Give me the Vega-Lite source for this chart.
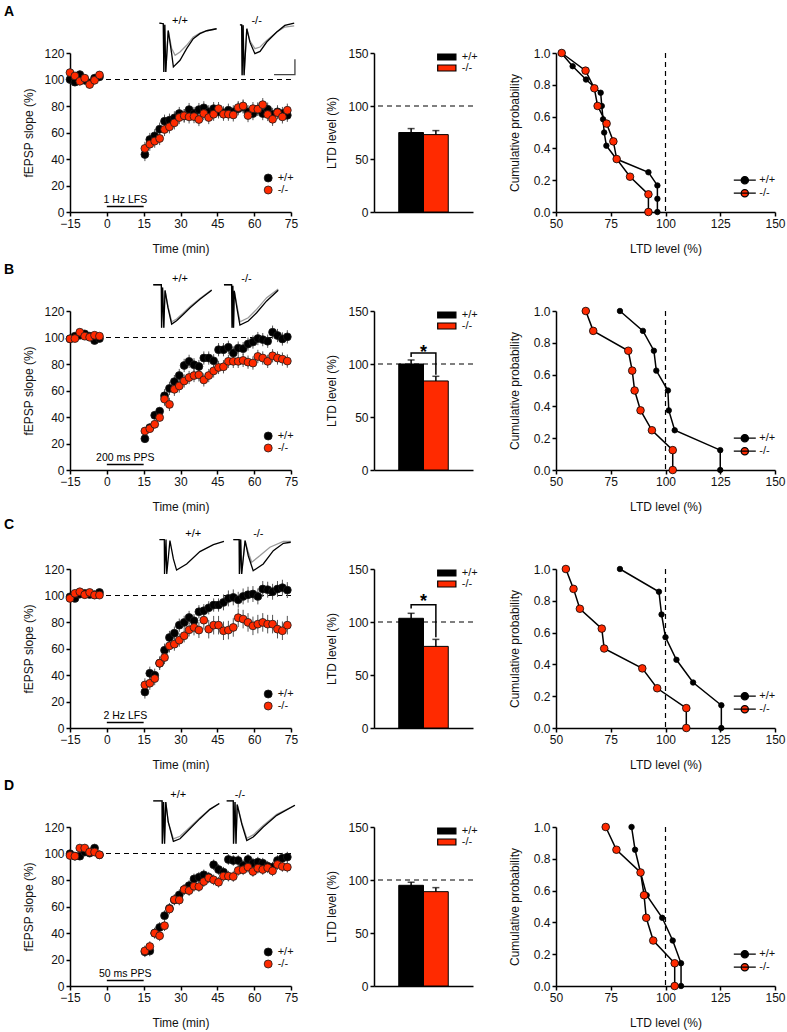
{
"$schema":"https://vega.github.io/schema/vega-lite/v6.json",
"padding":{"left":4,"top":5,"right":4,"bottom":4},
"config":{"font":"Liberation Sans","view":{"stroke":null},
"axis":{"grid":false,"domainColor":"#000","domainWidth":1.5,"tickColor":"#000","tickWidth":1.5,"tickSize":4,"labelColor":"#111","labelFontSize":12,"labelFont":"Liberation Sans","labelPadding":2,"labelFlush":false,"labelOverlap":false,"titleFont":"Liberation Sans","titleFontSize":12,"titleFontWeight":"normal","titleColor":"#111"},
"legend":{"labelFont":"Liberation Sans","labelColor":"#111","labelFontSize":11},
"text":{"font":"Liberation Sans"},"title":{"font":"Liberation Sans"}},
"datasets":{
"tc":[
{"r":"A","g":"+/+","t":-15,"v":100,"e":3},{"r":"A","g":"+/+","t":-13,"v":98,"e":3},{"r":"A","g":"+/+","t":-11,"v":103.7,"e":3},{"r":"A","g":"+/+","t":-9,"v":99.4,"e":3},{"r":"A","g":"+/+","t":-7,"v":97.4,"e":3},{"r":"A","g":"+/+","t":-5,"v":101,"e":3},{"r":"A","g":"+/+","t":-3,"v":102,"e":3},
{"r":"A","g":"+/+","t":15.5,"v":43.4,"e":5},{"r":"A","g":"+/+","t":17.5,"v":54.7,"e":5},{"r":"A","g":"+/+","t":19.5,"v":57.5,"e":5},{"r":"A","g":"+/+","t":21.5,"v":62.5,"e":5},{"r":"A","g":"+/+","t":23.5,"v":68.5,"e":5},{"r":"A","g":"+/+","t":25.5,"v":69.3,"e":5},{"r":"A","g":"+/+","t":27.5,"v":71,"e":5},{"r":"A","g":"+/+","t":29.5,"v":74.3,"e":5},{"r":"A","g":"+/+","t":31.5,"v":72.6,"e":5},{"r":"A","g":"+/+","t":33.5,"v":77.3,"e":5},{"r":"A","g":"+/+","t":35.5,"v":74.3,"e":5},{"r":"A","g":"+/+","t":37.5,"v":77.3,"e":5},{"r":"A","g":"+/+","t":39.5,"v":78.6,"e":5},{"r":"A","g":"+/+","t":41.5,"v":75.6,"e":5},{"r":"A","g":"+/+","t":43.5,"v":78,"e":5},{"r":"A","g":"+/+","t":45.5,"v":75.6,"e":5},{"r":"A","g":"+/+","t":47.5,"v":74.8,"e":5},{"r":"A","g":"+/+","t":49.5,"v":76.8,"e":5},{"r":"A","g":"+/+","t":51.5,"v":75.6,"e":5},{"r":"A","g":"+/+","t":53.5,"v":78,"e":5},{"r":"A","g":"+/+","t":55.5,"v":79.3,"e":5},{"r":"A","g":"+/+","t":57.5,"v":75.6,"e":5},{"r":"A","g":"+/+","t":59.5,"v":74.3,"e":5},{"r":"A","g":"+/+","t":61.5,"v":77.6,"e":5},{"r":"A","g":"+/+","t":63.5,"v":74.3,"e":5},{"r":"A","g":"+/+","t":65.5,"v":77.6,"e":5},{"r":"A","g":"+/+","t":67.5,"v":73.6,"e":5},{"r":"A","g":"+/+","t":69.5,"v":75.6,"e":5},{"r":"A","g":"+/+","t":71.5,"v":74.3,"e":5},{"r":"A","g":"+/+","t":73.5,"v":73,"e":5},
{"r":"A","g":"-/-","t":-15,"v":105.2,"e":3},{"r":"A","g":"-/-","t":-13,"v":102.7,"e":3},{"r":"A","g":"-/-","t":-11,"v":98.7,"e":3},{"r":"A","g":"-/-","t":-9,"v":101,"e":3},{"r":"A","g":"-/-","t":-7,"v":96.2,"e":3},{"r":"A","g":"-/-","t":-5,"v":99.4,"e":3},{"r":"A","g":"-/-","t":-3,"v":103.4,"e":3},
{"r":"A","g":"-/-","t":15.5,"v":48,"e":5},{"r":"A","g":"-/-","t":17.5,"v":51.2,"e":5},{"r":"A","g":"-/-","t":19.5,"v":53.5,"e":5},{"r":"A","g":"-/-","t":21.5,"v":55.5,"e":5},{"r":"A","g":"-/-","t":23.5,"v":62.3,"e":5},{"r":"A","g":"-/-","t":25.5,"v":64.3,"e":5},{"r":"A","g":"-/-","t":27.5,"v":67.3,"e":5},{"r":"A","g":"-/-","t":29.5,"v":71.3,"e":5},{"r":"A","g":"-/-","t":31.5,"v":72.6,"e":5},{"r":"A","g":"-/-","t":33.5,"v":71.8,"e":5},{"r":"A","g":"-/-","t":35.5,"v":72,"e":5},{"r":"A","g":"-/-","t":37.5,"v":69.8,"e":5},{"r":"A","g":"-/-","t":39.5,"v":74.3,"e":5},{"r":"A","g":"-/-","t":41.5,"v":71.3,"e":5},{"r":"A","g":"-/-","t":43.5,"v":73.8,"e":5},{"r":"A","g":"-/-","t":45.5,"v":78,"e":5},{"r":"A","g":"-/-","t":47.5,"v":73.8,"e":5},{"r":"A","g":"-/-","t":49.5,"v":73.8,"e":5},{"r":"A","g":"-/-","t":51.5,"v":73.3,"e":5},{"r":"A","g":"-/-","t":53.5,"v":78.8,"e":5},{"r":"A","g":"-/-","t":55.5,"v":80,"e":5},{"r":"A","g":"-/-","t":57.5,"v":72.8,"e":5},{"r":"A","g":"-/-","t":59.5,"v":78,"e":5},{"r":"A","g":"-/-","t":61.5,"v":77.6,"e":5},{"r":"A","g":"-/-","t":63.5,"v":81,"e":5},{"r":"A","g":"-/-","t":65.5,"v":73.6,"e":5},{"r":"A","g":"-/-","t":67.5,"v":70,"e":5},{"r":"A","g":"-/-","t":69.5,"v":75,"e":5},{"r":"A","g":"-/-","t":71.5,"v":71.8,"e":5},{"r":"A","g":"-/-","t":73.5,"v":76.8,"e":5},
{"r":"B","g":"+/+","t":-15,"v":99,"e":2.5},{"r":"B","g":"+/+","t":-13,"v":101,"e":2.5},{"r":"B","g":"+/+","t":-11,"v":101.7,"e":2.5},{"r":"B","g":"+/+","t":-9,"v":102.7,"e":2.5},{"r":"B","g":"+/+","t":-7,"v":101,"e":2.5},{"r":"B","g":"+/+","t":-5,"v":97.7,"e":2.5},{"r":"B","g":"+/+","t":-3,"v":99.2,"e":2.5},
{"r":"B","g":"+/+","t":15.5,"v":23.6,"e":3},{"r":"B","g":"+/+","t":17.5,"v":32,"e":3},{"r":"B","g":"+/+","t":19.5,"v":41.3,"e":3},{"r":"B","g":"+/+","t":21.5,"v":44.4,"e":3},{"r":"B","g":"+/+","t":23.5,"v":56,"e":5},{"r":"B","g":"+/+","t":25.5,"v":61.6,"e":5},{"r":"B","g":"+/+","t":27.5,"v":66.7,"e":5},{"r":"B","g":"+/+","t":29.5,"v":71.3,"e":5},{"r":"B","g":"+/+","t":31.5,"v":78.9,"e":5},{"r":"B","g":"+/+","t":33.5,"v":82,"e":5},{"r":"B","g":"+/+","t":35.5,"v":79.4,"e":5},{"r":"B","g":"+/+","t":37.5,"v":78.1,"e":5},{"r":"B","g":"+/+","t":39.5,"v":84.5,"e":5},{"r":"B","g":"+/+","t":41.5,"v":84.5,"e":5},{"r":"B","g":"+/+","t":43.5,"v":82.4,"e":5},{"r":"B","g":"+/+","t":45.5,"v":90.8,"e":5},{"r":"B","g":"+/+","t":47.5,"v":90.8,"e":5},{"r":"B","g":"+/+","t":49.5,"v":92.6,"e":5},{"r":"B","g":"+/+","t":51.5,"v":88.3,"e":5},{"r":"B","g":"+/+","t":53.5,"v":92,"e":5},{"r":"B","g":"+/+","t":55.5,"v":91.6,"e":5},{"r":"B","g":"+/+","t":57.5,"v":95.1,"e":5},{"r":"B","g":"+/+","t":59.5,"v":96.6,"e":5},{"r":"B","g":"+/+","t":61.5,"v":99.2,"e":5},{"r":"B","g":"+/+","t":63.5,"v":98.4,"e":5},{"r":"B","g":"+/+","t":65.5,"v":97.2,"e":5},{"r":"B","g":"+/+","t":67.5,"v":104,"e":5},{"r":"B","g":"+/+","t":69.5,"v":101.5,"e":5},{"r":"B","g":"+/+","t":71.5,"v":98.9,"e":5},{"r":"B","g":"+/+","t":73.5,"v":100.5,"e":5},
{"r":"B","g":"-/-","t":-15,"v":99,"e":2.5},{"r":"B","g":"-/-","t":-13,"v":99.2,"e":2.5},{"r":"B","g":"-/-","t":-11,"v":104,"e":2.5},{"r":"B","g":"-/-","t":-9,"v":101,"e":2.5},{"r":"B","g":"-/-","t":-7,"v":100.2,"e":2.5},{"r":"B","g":"-/-","t":-5,"v":101.7,"e":2.5},{"r":"B","g":"-/-","t":-3,"v":101,"e":2.5},
{"r":"B","g":"-/-","t":15.5,"v":29.4,"e":3},{"r":"B","g":"-/-","t":17.5,"v":31.2,"e":3},{"r":"B","g":"-/-","t":19.5,"v":34.5,"e":3},{"r":"B","g":"-/-","t":21.5,"v":39.6,"e":3},{"r":"B","g":"-/-","t":23.5,"v":53.5,"e":5},{"r":"B","g":"-/-","t":25.5,"v":49.5,"e":5},{"r":"B","g":"-/-","t":27.5,"v":60.9,"e":5},{"r":"B","g":"-/-","t":29.5,"v":63.4,"e":5},{"r":"B","g":"-/-","t":31.5,"v":67.2,"e":5},{"r":"B","g":"-/-","t":33.5,"v":69.8,"e":5},{"r":"B","g":"-/-","t":35.5,"v":71.3,"e":5},{"r":"B","g":"-/-","t":37.5,"v":71.8,"e":5},{"r":"B","g":"-/-","t":39.5,"v":68,"e":5},{"r":"B","g":"-/-","t":41.5,"v":71.3,"e":5},{"r":"B","g":"-/-","t":43.5,"v":74.8,"e":5},{"r":"B","g":"-/-","t":45.5,"v":77.4,"e":5},{"r":"B","g":"-/-","t":47.5,"v":77.9,"e":5},{"r":"B","g":"-/-","t":49.5,"v":82,"e":5},{"r":"B","g":"-/-","t":51.5,"v":82,"e":5},{"r":"B","g":"-/-","t":53.5,"v":82,"e":5},{"r":"B","g":"-/-","t":55.5,"v":82.7,"e":5},{"r":"B","g":"-/-","t":57.5,"v":81.4,"e":5},{"r":"B","g":"-/-","t":59.5,"v":80.7,"e":5},{"r":"B","g":"-/-","t":61.5,"v":85.7,"e":5},{"r":"B","g":"-/-","t":63.5,"v":84.5,"e":5},{"r":"B","g":"-/-","t":65.5,"v":82,"e":5},{"r":"B","g":"-/-","t":67.5,"v":86.2,"e":5},{"r":"B","g":"-/-","t":69.5,"v":84.5,"e":5},{"r":"B","g":"-/-","t":71.5,"v":83.7,"e":5},{"r":"B","g":"-/-","t":73.5,"v":82.2,"e":5},
{"r":"C","g":"+/+","t":-15,"v":99,"e":2.5},{"r":"C","g":"+/+","t":-13,"v":97.8,"e":2.5},{"r":"C","g":"+/+","t":-11,"v":101,"e":2.5},{"r":"C","g":"+/+","t":-9,"v":101.6,"e":2.5},{"r":"C","g":"+/+","t":-7,"v":100.8,"e":2.5},{"r":"C","g":"+/+","t":-5,"v":100.6,"e":2.5},{"r":"C","g":"+/+","t":-3,"v":102.3,"e":2.5},
{"r":"C","g":"+/+","t":15.5,"v":27.2,"e":5},{"r":"C","g":"+/+","t":17.5,"v":41.3,"e":5},{"r":"C","g":"+/+","t":19.5,"v":39.8,"e":5},{"r":"C","g":"+/+","t":21.5,"v":48.9,"e":5},{"r":"C","g":"+/+","t":23.5,"v":58.7,"e":5},{"r":"C","g":"+/+","t":25.5,"v":68.3,"e":5},{"r":"C","g":"+/+","t":27.5,"v":71.6,"e":5},{"r":"C","g":"+/+","t":29.5,"v":77.6,"e":5},{"r":"C","g":"+/+","t":31.5,"v":79.7,"e":5},{"r":"C","g":"+/+","t":33.5,"v":83.4,"e":5},{"r":"C","g":"+/+","t":35.5,"v":80.9,"e":5},{"r":"C","g":"+/+","t":37.5,"v":87.7,"e":5},{"r":"C","g":"+/+","t":39.5,"v":88.5,"e":5},{"r":"C","g":"+/+","t":41.5,"v":90.7,"e":5},{"r":"C","g":"+/+","t":43.5,"v":92.8,"e":5},{"r":"C","g":"+/+","t":45.5,"v":92.8,"e":5},{"r":"C","g":"+/+","t":47.5,"v":94.8,"e":6},{"r":"C","g":"+/+","t":49.5,"v":97.8,"e":6},{"r":"C","g":"+/+","t":51.5,"v":98.6,"e":6},{"r":"C","g":"+/+","t":53.5,"v":96.8,"e":6},{"r":"C","g":"+/+","t":55.5,"v":99.3,"e":6},{"r":"C","g":"+/+","t":57.5,"v":100.6,"e":6},{"r":"C","g":"+/+","t":59.5,"v":101.1,"e":6},{"r":"C","g":"+/+","t":61.5,"v":99.3,"e":6},{"r":"C","g":"+/+","t":63.5,"v":104.9,"e":6},{"r":"C","g":"+/+","t":65.5,"v":104.4,"e":6},{"r":"C","g":"+/+","t":67.5,"v":102.8,"e":6},{"r":"C","g":"+/+","t":69.5,"v":104.9,"e":6},{"r":"C","g":"+/+","t":71.5,"v":105.9,"e":6},{"r":"C","g":"+/+","t":73.5,"v":104.1,"e":6},
{"r":"C","g":"-/-","t":-15,"v":97.8,"e":2.5},{"r":"C","g":"-/-","t":-13,"v":101.6,"e":2.5},{"r":"C","g":"-/-","t":-11,"v":102.8,"e":2.5},{"r":"C","g":"-/-","t":-9,"v":100.6,"e":2.5},{"r":"C","g":"-/-","t":-7,"v":102.3,"e":2.5},{"r":"C","g":"-/-","t":-5,"v":100.3,"e":2.5},{"r":"C","g":"-/-","t":-3,"v":100.3,"e":2.5},
{"r":"C","g":"-/-","t":15.5,"v":32.5,"e":5},{"r":"C","g":"-/-","t":17.5,"v":33.8,"e":5},{"r":"C","g":"-/-","t":19.5,"v":37.3,"e":5},{"r":"C","g":"-/-","t":21.5,"v":48.9,"e":5},{"r":"C","g":"-/-","t":23.5,"v":53.2,"e":5},{"r":"C","g":"-/-","t":25.5,"v":62,"e":5},{"r":"C","g":"-/-","t":27.5,"v":63.3,"e":5},{"r":"C","g":"-/-","t":29.5,"v":66.3,"e":5},{"r":"C","g":"-/-","t":31.5,"v":69.6,"e":5},{"r":"C","g":"-/-","t":33.5,"v":74.1,"e":5},{"r":"C","g":"-/-","t":35.5,"v":75.9,"e":6},{"r":"C","g":"-/-","t":37.5,"v":73.9,"e":6},{"r":"C","g":"-/-","t":39.5,"v":81.4,"e":7},{"r":"C","g":"-/-","t":41.5,"v":74.6,"e":7},{"r":"C","g":"-/-","t":43.5,"v":77.6,"e":7},{"r":"C","g":"-/-","t":45.5,"v":77.6,"e":7},{"r":"C","g":"-/-","t":47.5,"v":73.4,"e":7},{"r":"C","g":"-/-","t":49.5,"v":73.9,"e":7},{"r":"C","g":"-/-","t":51.5,"v":75.9,"e":7},{"r":"C","g":"-/-","t":53.5,"v":83.2,"e":7},{"r":"C","g":"-/-","t":55.5,"v":82.2,"e":7},{"r":"C","g":"-/-","t":57.5,"v":79.7,"e":7},{"r":"C","g":"-/-","t":59.5,"v":77.1,"e":7},{"r":"C","g":"-/-","t":61.5,"v":78.4,"e":7},{"r":"C","g":"-/-","t":63.5,"v":79.7,"e":7},{"r":"C","g":"-/-","t":65.5,"v":78.4,"e":7},{"r":"C","g":"-/-","t":67.5,"v":78.4,"e":7},{"r":"C","g":"-/-","t":69.5,"v":74.6,"e":7},{"r":"C","g":"-/-","t":71.5,"v":73.4,"e":7},{"r":"C","g":"-/-","t":73.5,"v":77.6,"e":7},
{"r":"D","g":"+/+","t":-15,"v":99.8,"e":3},{"r":"D","g":"+/+","t":-13,"v":98,"e":3},{"r":"D","g":"+/+","t":-11,"v":98,"e":3},{"r":"D","g":"+/+","t":-9,"v":101.1,"e":3},{"r":"D","g":"+/+","t":-7,"v":100.3,"e":3},{"r":"D","g":"+/+","t":-5,"v":104.1,"e":3},{"r":"D","g":"+/+","t":-3,"v":99,"e":3},
{"r":"D","g":"+/+","t":15.5,"v":25.8,"e":4},{"r":"D","g":"+/+","t":17.5,"v":26.5,"e":4},{"r":"D","g":"+/+","t":19.5,"v":39.9,"e":4},{"r":"D","g":"+/+","t":21.5,"v":44.2,"e":4},{"r":"D","g":"+/+","t":23.5,"v":53.1,"e":4},{"r":"D","g":"+/+","t":25.5,"v":58.6,"e":4},{"r":"D","g":"+/+","t":27.5,"v":64.9,"e":4},{"r":"D","g":"+/+","t":29.5,"v":68.7,"e":4},{"r":"D","g":"+/+","t":31.5,"v":72.8,"e":4},{"r":"D","g":"+/+","t":33.5,"v":75.8,"e":4},{"r":"D","g":"+/+","t":35.5,"v":80.8,"e":4},{"r":"D","g":"+/+","t":37.5,"v":82.1,"e":4},{"r":"D","g":"+/+","t":39.5,"v":83.9,"e":4},{"r":"D","g":"+/+","t":41.5,"v":82.1,"e":4},{"r":"D","g":"+/+","t":43.5,"v":91.5,"e":4},{"r":"D","g":"+/+","t":45.5,"v":87.9,"e":4},{"r":"D","g":"+/+","t":47.5,"v":85.9,"e":4},{"r":"D","g":"+/+","t":49.5,"v":95.5,"e":4},{"r":"D","g":"+/+","t":51.5,"v":94.7,"e":4},{"r":"D","g":"+/+","t":53.5,"v":94.7,"e":4},{"r":"D","g":"+/+","t":55.5,"v":91,"e":4},{"r":"D","g":"+/+","t":57.5,"v":95.5,"e":4},{"r":"D","g":"+/+","t":59.5,"v":92.7,"e":4},{"r":"D","g":"+/+","t":61.5,"v":93.5,"e":4},{"r":"D","g":"+/+","t":63.5,"v":92.7,"e":4},{"r":"D","g":"+/+","t":65.5,"v":90.4,"e":4},{"r":"D","g":"+/+","t":67.5,"v":89.7,"e":4},{"r":"D","g":"+/+","t":69.5,"v":94.7,"e":4},{"r":"D","g":"+/+","t":71.5,"v":96.5,"e":4},{"r":"D","g":"+/+","t":73.5,"v":97.3,"e":4},
{"r":"D","g":"-/-","t":-15,"v":98.5,"e":3},{"r":"D","g":"-/-","t":-13,"v":98,"e":3},{"r":"D","g":"-/-","t":-11,"v":104.1,"e":3},{"r":"D","g":"-/-","t":-9,"v":104.1,"e":3},{"r":"D","g":"-/-","t":-7,"v":101.1,"e":3},{"r":"D","g":"-/-","t":-5,"v":101.1,"e":3},{"r":"D","g":"-/-","t":-3,"v":99,"e":3},
{"r":"D","g":"-/-","t":15.5,"v":26.5,"e":4},{"r":"D","g":"-/-","t":17.5,"v":29.8,"e":4},{"r":"D","g":"-/-","t":19.5,"v":39.9,"e":4},{"r":"D","g":"-/-","t":21.5,"v":37.9,"e":4},{"r":"D","g":"-/-","t":23.5,"v":45.5,"e":4},{"r":"D","g":"-/-","t":25.5,"v":58.1,"e":4},{"r":"D","g":"-/-","t":27.5,"v":65.2,"e":4},{"r":"D","g":"-/-","t":29.5,"v":64.9,"e":4},{"r":"D","g":"-/-","t":31.5,"v":72.8,"e":4},{"r":"D","g":"-/-","t":33.5,"v":72,"e":4},{"r":"D","g":"-/-","t":35.5,"v":75.3,"e":4},{"r":"D","g":"-/-","t":37.5,"v":75,"e":4},{"r":"D","g":"-/-","t":39.5,"v":78.8,"e":4},{"r":"D","g":"-/-","t":41.5,"v":81.6,"e":4},{"r":"D","g":"-/-","t":43.5,"v":80.1,"e":4},{"r":"D","g":"-/-","t":45.5,"v":78.3,"e":4},{"r":"D","g":"-/-","t":47.5,"v":82.9,"e":4},{"r":"D","g":"-/-","t":49.5,"v":82.9,"e":4},{"r":"D","g":"-/-","t":51.5,"v":82.6,"e":4},{"r":"D","g":"-/-","t":53.5,"v":87.2,"e":4},{"r":"D","g":"-/-","t":55.5,"v":87.7,"e":4},{"r":"D","g":"-/-","t":57.5,"v":89.7,"e":4},{"r":"D","g":"-/-","t":59.5,"v":86.4,"e":4},{"r":"D","g":"-/-","t":61.5,"v":88.9,"e":4},{"r":"D","g":"-/-","t":63.5,"v":87.9,"e":4},{"r":"D","g":"-/-","t":65.5,"v":89.2,"e":4},{"r":"D","g":"-/-","t":67.5,"v":86.9,"e":4},{"r":"D","g":"-/-","t":69.5,"v":91.7,"e":4},{"r":"D","g":"-/-","t":71.5,"v":90.2,"e":4},{"r":"D","g":"-/-","t":73.5,"v":89.7,"e":4}
],
"bars":[
{"r":"A","g":"+/+","m":75,"e":3.7},{"r":"A","g":"-/-","m":73,"e":3.8},
{"r":"B","g":"+/+","m":100,"e":3.8},{"r":"B","g":"-/-","m":84,"e":4.4},
{"r":"C","g":"+/+","m":103.5,"e":4.7},{"r":"C","g":"-/-","m":77,"e":6.6},
{"r":"D","g":"+/+","m":95,"e":2.9},{"r":"D","g":"-/-","m":89,"e":3.8}
],
"brk":[
{"r":"B","g":"+/+","y":106.5,"o":1},{"r":"B","g":"+/+","y":110.3,"o":2},{"r":"B","g":"-/-","y":110.3,"o":3},{"r":"B","g":"-/-","y":89.8,"o":4},
{"r":"C","g":"+/+","y":112.7,"o":1},{"r":"C","g":"+/+","y":116.2,"o":2},{"r":"C","g":"-/-","y":116.2,"o":3},{"r":"C","g":"-/-","y":85.5,"o":4}
],
"star":[{"r":"B","g":"+/+","y":106,"s":"*"},{"r":"C","g":"+/+","y":114.5,"s":"*"}],
"cum":[
{"r":"A","g":"+/+","x":52.4,"p":1},{"r":"A","g":"+/+","x":57.6,"p":0.917},{"r":"A","g":"+/+","x":63.7,"p":0.833},{"r":"A","g":"+/+","x":70.4,"p":0.75},{"r":"A","g":"+/+","x":70.9,"p":0.667},{"r":"A","g":"+/+","x":71.5,"p":0.583},{"r":"A","g":"+/+","x":72,"p":0.5},{"r":"A","g":"+/+","x":73,"p":0.417},{"r":"A","g":"+/+","x":77.6,"p":0.333},{"r":"A","g":"+/+","x":92.2,"p":0.25},{"r":"A","g":"+/+","x":96.3,"p":0.167},{"r":"A","g":"+/+","x":96.3,"p":0.083},{"r":"A","g":"+/+","x":96.3,"p":0},
{"r":"A","g":"-/-","x":52.6,"p":1},{"r":"A","g":"-/-","x":63.5,"p":0.889},{"r":"A","g":"-/-","x":67.5,"p":0.778},{"r":"A","g":"-/-","x":69,"p":0.667},{"r":"A","g":"-/-","x":73.1,"p":0.556},{"r":"A","g":"-/-","x":76.2,"p":0.444},{"r":"A","g":"-/-","x":77.7,"p":0.333},{"r":"A","g":"-/-","x":83.8,"p":0.222},{"r":"A","g":"-/-","x":92.2,"p":0.111},{"r":"A","g":"-/-","x":92.2,"p":0},
{"r":"B","g":"+/+","x":79.2,"p":1},{"r":"B","g":"+/+","x":89.7,"p":0.875},{"r":"B","g":"+/+","x":94.7,"p":0.75},{"r":"B","g":"+/+","x":95.8,"p":0.625},{"r":"B","g":"+/+","x":101.1,"p":0.5},{"r":"B","g":"+/+","x":101.5,"p":0.375},{"r":"B","g":"+/+","x":104.2,"p":0.25},{"r":"B","g":"+/+","x":125,"p":0.125},{"r":"B","g":"+/+","x":125,"p":0},
{"r":"B","g":"-/-","x":63.6,"p":1},{"r":"B","g":"-/-","x":67,"p":0.875},{"r":"B","g":"-/-","x":83,"p":0.75},{"r":"B","g":"-/-","x":84.8,"p":0.625},{"r":"B","g":"-/-","x":85.9,"p":0.5},{"r":"B","g":"-/-","x":88.6,"p":0.375},{"r":"B","g":"-/-","x":93.8,"p":0.25},{"r":"B","g":"-/-","x":103.3,"p":0.125},{"r":"B","g":"-/-","x":103.3,"p":0},
{"r":"C","g":"+/+","x":79.2,"p":1},{"r":"C","g":"+/+","x":97,"p":0.857},{"r":"C","g":"+/+","x":98.2,"p":0.714},{"r":"C","g":"+/+","x":100,"p":0.571},{"r":"C","g":"+/+","x":105,"p":0.429},{"r":"C","g":"+/+","x":112.6,"p":0.286},{"r":"C","g":"+/+","x":125.5,"p":0.143},{"r":"C","g":"+/+","x":125.5,"p":0},
{"r":"C","g":"-/-","x":54.5,"p":1},{"r":"C","g":"-/-","x":58,"p":0.875},{"r":"C","g":"-/-","x":60.9,"p":0.75},{"r":"C","g":"-/-","x":70.9,"p":0.625},{"r":"C","g":"-/-","x":72,"p":0.5},{"r":"C","g":"-/-","x":89.4,"p":0.375},{"r":"C","g":"-/-","x":96.2,"p":0.25},{"r":"C","g":"-/-","x":109.5,"p":0.125},{"r":"C","g":"-/-","x":109.5,"p":0},
{"r":"D","g":"+/+","x":84.5,"p":1},{"r":"D","g":"+/+","x":86.1,"p":0.857},{"r":"D","g":"+/+","x":88.6,"p":0.714},{"r":"D","g":"+/+","x":91.4,"p":0.571},{"r":"D","g":"+/+","x":98.5,"p":0.429},{"r":"D","g":"+/+","x":103.3,"p":0.286},{"r":"D","g":"+/+","x":107.1,"p":0.143},{"r":"D","g":"+/+","x":107.1,"p":0},
{"r":"D","g":"-/-","x":72.7,"p":1},{"r":"D","g":"-/-","x":77.6,"p":0.857},{"r":"D","g":"-/-","x":88.6,"p":0.714},{"r":"D","g":"-/-","x":90.2,"p":0.571},{"r":"D","g":"-/-","x":91.2,"p":0.429},{"r":"D","g":"-/-","x":94.4,"p":0.286},{"r":"D","g":"-/-","x":104.2,"p":0.143},{"r":"D","g":"-/-","x":104.2,"p":0}
],
"tr":[
{"r":"A","c":"p","k":"post","o":1,"t":21.4,"v":142.6},{"r":"A","c":"p","k":"post","o":2,"t":23.0,"v":142.1},{"r":"A","c":"p","k":"post","o":3,"t":23.2,"v":105.7},{"r":"A","c":"p","k":"post","o":4,"t":23.6,"v":141.3},{"r":"A","c":"p","k":"post","o":5,"t":24.0,"v":105.7},{"r":"A","c":"p","k":"post","o":6,"t":25.0,"v":137},{"r":"A","c":"p","k":"post","o":7,"t":26.4,"v":123.3},{"r":"A","c":"p","k":"post","o":8,"t":27.8,"v":118.2},{"r":"A","c":"p","k":"post","o":9,"t":29.8,"v":120.8},{"r":"A","c":"p","k":"post","o":10,"t":32.5,"v":125.8},{"r":"A","c":"p","k":"post","o":11,"t":35.2,"v":132.1},{"r":"A","c":"p","k":"post","o":12,"t":37.9,"v":135.1},{"r":"A","c":"p","k":"post","o":13,"t":40.7,"v":136.8},{"r":"A","c":"p","k":"post","o":14,"t":44.7,"v":138.3},
{"r":"A","c":"p","k":"pre","o":1,"t":21.4,"v":142.6},{"r":"A","c":"p","k":"pre","o":2,"t":23.0,"v":142.1},{"r":"A","c":"p","k":"pre","o":3,"t":23.2,"v":105.7},{"r":"A","c":"p","k":"pre","o":4,"t":23.6,"v":141.3},{"r":"A","c":"p","k":"pre","o":5,"t":24.0,"v":105.7},{"r":"A","c":"p","k":"pre","o":6,"t":25.0,"v":137},{"r":"A","c":"p","k":"pre","o":7,"t":26.4,"v":119.5},{"r":"A","c":"p","k":"pre","o":8,"t":27.1,"v":109.5},{"r":"A","c":"p","k":"pre","o":9,"t":29.8,"v":114.5},{"r":"A","c":"p","k":"pre","o":10,"t":32.5,"v":123.3},{"r":"A","c":"p","k":"pre","o":11,"t":35.2,"v":130.8},{"r":"A","c":"p","k":"pre","o":12,"t":37.9,"v":134.6},{"r":"A","c":"p","k":"pre","o":13,"t":40.7,"v":136.8},{"r":"A","c":"p","k":"pre","o":14,"t":44.7,"v":138.3},
{"r":"A","c":"m","k":"post","o":1,"t":54.2,"v":141.3},{"r":"A","c":"m","k":"post","o":2,"t":54.9,"v":141.3},{"r":"A","c":"m","k":"post","o":3,"t":55.1,"v":103.2},{"r":"A","c":"m","k":"post","o":4,"t":55.5,"v":141},{"r":"A","c":"m","k":"post","o":5,"t":55.9,"v":103.2},{"r":"A","c":"m","k":"post","o":6,"t":57.0,"v":138.3},{"r":"A","c":"m","k":"post","o":7,"t":58.3,"v":129},{"r":"A","c":"m","k":"post","o":8,"t":60.3,"v":123.3},{"r":"A","c":"m","k":"post","o":9,"t":62.4,"v":124.5},{"r":"A","c":"m","k":"post","o":10,"t":65.1,"v":129.5},{"r":"A","c":"m","k":"post","o":11,"t":69.2,"v":135.8},{"r":"A","c":"m","k":"post","o":12,"t":72.5,"v":139.6},{"r":"A","c":"m","k":"post","o":13,"t":76.3,"v":140.4},
{"r":"A","c":"m","k":"pre","o":1,"t":54.2,"v":141.3},{"r":"A","c":"m","k":"pre","o":2,"t":54.9,"v":141.3},{"r":"A","c":"m","k":"pre","o":3,"t":55.1,"v":103.2},{"r":"A","c":"m","k":"pre","o":4,"t":55.5,"v":141},{"r":"A","c":"m","k":"pre","o":5,"t":55.9,"v":103.2},{"r":"A","c":"m","k":"pre","o":6,"t":57.0,"v":138.3},{"r":"A","c":"m","k":"pre","o":7,"t":58.3,"v":128},{"r":"A","c":"m","k":"pre","o":8,"t":60.3,"v":119.5},{"r":"A","c":"m","k":"pre","o":9,"t":62.4,"v":121.2},{"r":"A","c":"m","k":"pre","o":10,"t":65.1,"v":128.3},{"r":"A","c":"m","k":"pre","o":11,"t":69.2,"v":135.8},{"r":"A","c":"m","k":"pre","o":12,"t":72.5,"v":140.8},{"r":"A","c":"m","k":"pre","o":13,"t":76.3,"v":142.6},
{"r":"A","c":"s","k":"bar","o":1,"t":68.1,"v":103.7},{"r":"A","c":"s","k":"bar","o":2,"t":76.6,"v":103.7},{"r":"A","c":"s","k":"bar","o":3,"t":76.6,"v":115.2},
{"r":"B","c":"p","k":"post","o":1,"t":18.9,"v":139.8},{"r":"B","c":"p","k":"post","o":2,"t":22.2,"v":139.8},{"r":"B","c":"p","k":"post","o":3,"t":22.3,"v":107.3},{"r":"B","c":"p","k":"post","o":4,"t":22.7,"v":137.7},{"r":"B","c":"p","k":"post","o":5,"t":23.2,"v":107.3},{"r":"B","c":"p","k":"post","o":6,"t":23.7,"v":135.5},{"r":"B","c":"p","k":"post","o":7,"t":24.9,"v":123.5},{"r":"B","c":"p","k":"post","o":8,"t":26.4,"v":111.9},{"r":"B","c":"p","k":"post","o":9,"t":28.4,"v":114},{"r":"B","c":"p","k":"post","o":10,"t":31.1,"v":118.5},{"r":"B","c":"p","k":"post","o":11,"t":33.9,"v":123.5},{"r":"B","c":"p","k":"post","o":12,"t":37.9,"v":129.5},{"r":"B","c":"p","k":"post","o":13,"t":42.7,"v":136},
{"r":"B","c":"p","k":"pre","o":1,"t":18.9,"v":139.8},{"r":"B","c":"p","k":"pre","o":2,"t":22.2,"v":139.8},{"r":"B","c":"p","k":"pre","o":3,"t":22.3,"v":107.3},{"r":"B","c":"p","k":"pre","o":4,"t":22.7,"v":137.7},{"r":"B","c":"p","k":"pre","o":5,"t":23.2,"v":107.3},{"r":"B","c":"p","k":"pre","o":6,"t":23.7,"v":135.5},{"r":"B","c":"p","k":"pre","o":7,"t":24.9,"v":122.5},{"r":"B","c":"p","k":"pre","o":8,"t":26.4,"v":110.1},{"r":"B","c":"p","k":"pre","o":9,"t":28.4,"v":112.6},{"r":"B","c":"p","k":"pre","o":10,"t":31.1,"v":117.4},{"r":"B","c":"p","k":"pre","o":11,"t":33.9,"v":122.5},{"r":"B","c":"p","k":"pre","o":12,"t":37.9,"v":128.8},{"r":"B","c":"p","k":"pre","o":13,"t":42.7,"v":135.7},
{"r":"B","c":"m","k":"post","o":1,"t":47.7,"v":139.8},{"r":"B","c":"m","k":"post","o":2,"t":50.8,"v":139.8},{"r":"B","c":"m","k":"post","o":3,"t":51.0,"v":107.3},{"r":"B","c":"m","k":"post","o":4,"t":51.3,"v":139},{"r":"B","c":"m","k":"post","o":5,"t":51.6,"v":107.3},{"r":"B","c":"m","k":"post","o":6,"t":51.9,"v":135.2},{"r":"B","c":"m","k":"post","o":7,"t":53,"v":124},{"r":"B","c":"m","k":"post","o":8,"t":54.2,"v":111.9},{"r":"B","c":"m","k":"post","o":9,"t":57.6,"v":114.9},{"r":"B","c":"m","k":"post","o":10,"t":61.0,"v":121.2},{"r":"B","c":"m","k":"post","o":11,"t":65.1,"v":130.1},{"r":"B","c":"m","k":"post","o":12,"t":69.8,"v":136.5},
{"r":"B","c":"m","k":"pre","o":1,"t":47.7,"v":139.8},{"r":"B","c":"m","k":"pre","o":2,"t":50.8,"v":139.8},{"r":"B","c":"m","k":"pre","o":3,"t":51.0,"v":107.3},{"r":"B","c":"m","k":"pre","o":4,"t":51.3,"v":139},{"r":"B","c":"m","k":"pre","o":5,"t":51.6,"v":107.3},{"r":"B","c":"m","k":"pre","o":6,"t":51.9,"v":135.2},{"r":"B","c":"m","k":"pre","o":7,"t":53,"v":122},{"r":"B","c":"m","k":"pre","o":8,"t":54.2,"v":109.4},{"r":"B","c":"m","k":"pre","o":9,"t":57.6,"v":112.4},{"r":"B","c":"m","k":"pre","o":10,"t":61.0,"v":118.7},{"r":"B","c":"m","k":"pre","o":11,"t":65.1,"v":127.6},{"r":"B","c":"m","k":"pre","o":12,"t":69.8,"v":135.7},
{"r":"C","c":"p","k":"pre","o":1,"t":21.4,"v":142.2},{"r":"C","c":"p","k":"pre","o":2,"t":23.4,"v":142.2},{"r":"C","c":"p","k":"pre","o":3,"t":23.5,"v":116.2},{"r":"C","c":"p","k":"pre","o":4,"t":24.1,"v":142.2},{"r":"C","c":"p","k":"pre","o":5,"t":24.4,"v":116.2},{"r":"C","c":"p","k":"pre","o":6,"t":25.7,"v":141.4},{"r":"C","c":"p","k":"pre","o":7,"t":27.1,"v":127.6},{"r":"C","c":"p","k":"pre","o":8,"t":28.4,"v":119.2},{"r":"C","c":"p","k":"pre","o":9,"t":32.5,"v":123.8},{"r":"C","c":"p","k":"pre","o":10,"t":37.9,"v":133.1},{"r":"C","c":"p","k":"pre","o":11,"t":43.4,"v":138.4},{"r":"C","c":"p","k":"pre","o":12,"t":47.7,"v":140.9},
{"r":"C","c":"m","k":"post","o":1,"t":51.5,"v":142.2},{"r":"C","c":"m","k":"post","o":2,"t":53.9,"v":142.2},{"r":"C","c":"m","k":"post","o":3,"t":54.0,"v":116.2},{"r":"C","c":"m","k":"post","o":4,"t":54.5,"v":142.2},{"r":"C","c":"m","k":"post","o":5,"t":54.9,"v":116.2},{"r":"C","c":"m","k":"post","o":6,"t":56.3,"v":141.4},{"r":"C","c":"m","k":"post","o":7,"t":57.6,"v":132.6},{"r":"C","c":"m","k":"post","o":8,"t":59.0,"v":125.1},{"r":"C","c":"m","k":"post","o":9,"t":62.4,"v":130.1},{"r":"C","c":"m","k":"post","o":10,"t":66.4,"v":136.4},{"r":"C","c":"m","k":"post","o":11,"t":71.9,"v":140.9},{"r":"C","c":"m","k":"post","o":12,"t":74.9,"v":140.9},
{"r":"C","c":"m","k":"pre","o":1,"t":51.5,"v":142.2},{"r":"C","c":"m","k":"pre","o":2,"t":53.9,"v":142.2},{"r":"C","c":"m","k":"pre","o":3,"t":54.0,"v":116.2},{"r":"C","c":"m","k":"pre","o":4,"t":54.5,"v":142.2},{"r":"C","c":"m","k":"pre","o":5,"t":54.9,"v":116.2},{"r":"C","c":"m","k":"pre","o":6,"t":56.3,"v":141.4},{"r":"C","c":"m","k":"pre","o":7,"t":57.6,"v":130},{"r":"C","c":"m","k":"pre","o":8,"t":59.6,"v":118.7},{"r":"C","c":"m","k":"pre","o":9,"t":63.7,"v":123.8},{"r":"C","c":"m","k":"pre","o":10,"t":67.8,"v":133.8},{"r":"C","c":"m","k":"pre","o":11,"t":71.9,"v":139.4},{"r":"C","c":"m","k":"pre","o":12,"t":74.9,"v":140.2},
{"r":"D","c":"p","k":"post","o":1,"t":18.9,"v":139.7},{"r":"D","c":"p","k":"post","o":2,"t":22.5,"v":139.7},{"r":"D","c":"p","k":"post","o":3,"t":22.6,"v":107.3},{"r":"D","c":"p","k":"post","o":4,"t":23.1,"v":138.9},{"r":"D","c":"p","k":"post","o":5,"t":23.5,"v":107.3},{"r":"D","c":"p","k":"post","o":6,"t":24.0,"v":138.9},{"r":"D","c":"p","k":"post","o":7,"t":25.0,"v":123.8},{"r":"D","c":"p","k":"post","o":8,"t":27.1,"v":111},{"r":"D","c":"p","k":"post","o":9,"t":29.8,"v":113},{"r":"D","c":"p","k":"post","o":10,"t":32.5,"v":117.5},{"r":"D","c":"p","k":"post","o":11,"t":37.9,"v":127},{"r":"D","c":"p","k":"post","o":12,"t":42.0,"v":133.5},{"r":"D","c":"p","k":"post","o":13,"t":45.8,"v":137.7},
{"r":"D","c":"p","k":"pre","o":1,"t":18.9,"v":139.7},{"r":"D","c":"p","k":"pre","o":2,"t":22.5,"v":139.7},{"r":"D","c":"p","k":"pre","o":3,"t":22.6,"v":107.3},{"r":"D","c":"p","k":"pre","o":4,"t":23.1,"v":138.9},{"r":"D","c":"p","k":"pre","o":5,"t":23.5,"v":107.3},{"r":"D","c":"p","k":"pre","o":6,"t":24.0,"v":138.9},{"r":"D","c":"p","k":"pre","o":7,"t":25.0,"v":123.8},{"r":"D","c":"p","k":"pre","o":8,"t":27.1,"v":109.1},{"r":"D","c":"p","k":"pre","o":9,"t":29.8,"v":111.1},{"r":"D","c":"p","k":"pre","o":10,"t":32.5,"v":116.2},{"r":"D","c":"p","k":"pre","o":11,"t":37.9,"v":126.3},{"r":"D","c":"p","k":"pre","o":12,"t":42.0,"v":133.3},{"r":"D","c":"p","k":"pre","o":13,"t":45.8,"v":137.7},
{"r":"D","c":"m","k":"post","o":1,"t":48.8,"v":139.7},{"r":"D","c":"m","k":"post","o":2,"t":51.5,"v":139.7},{"r":"D","c":"m","k":"post","o":3,"t":51.6,"v":107.3},{"r":"D","c":"m","k":"post","o":4,"t":52.2,"v":138.9},{"r":"D","c":"m","k":"post","o":5,"t":52.6,"v":107.3},{"r":"D","c":"m","k":"post","o":6,"t":53.1,"v":136.9},{"r":"D","c":"m","k":"post","o":7,"t":55,"v":123},{"r":"D","c":"m","k":"post","o":8,"t":57.0,"v":111.5},{"r":"D","c":"m","k":"post","o":9,"t":59.6,"v":114},{"r":"D","c":"m","k":"post","o":10,"t":63.7,"v":121.2},{"r":"D","c":"m","k":"post","o":11,"t":69.2,"v":129.5},{"r":"D","c":"m","k":"post","o":12,"t":76.6,"v":136.4},
{"r":"D","c":"m","k":"pre","o":1,"t":48.8,"v":139.7},{"r":"D","c":"m","k":"pre","o":2,"t":51.5,"v":139.7},{"r":"D","c":"m","k":"pre","o":3,"t":51.6,"v":107.3},{"r":"D","c":"m","k":"pre","o":4,"t":52.2,"v":138.9},{"r":"D","c":"m","k":"pre","o":5,"t":52.6,"v":107.3},{"r":"D","c":"m","k":"pre","o":6,"t":53.1,"v":136.9},{"r":"D","c":"m","k":"pre","o":7,"t":55,"v":122},{"r":"D","c":"m","k":"pre","o":8,"t":57.0,"v":109.8},{"r":"D","c":"m","k":"pre","o":9,"t":59.6,"v":112.4},{"r":"D","c":"m","k":"pre","o":10,"t":63.7,"v":120},{"r":"D","c":"m","k":"pre","o":11,"t":69.2,"v":128.8},{"r":"D","c":"m","k":"pre","o":12,"t":76.6,"v":136.4}
],
"lbl":[
{"r":"A","t":29.8,"v":143.8,"s":"+/+"},{"r":"A","t":61.0,"v":143.8,"s":"-/-"},
{"r":"B","t":29.8,"v":144.1,"s":"+/+"},{"r":"B","t":56.9,"v":144.1,"s":"-/-"},
{"r":"C","t":35.2,"v":146.5,"s":"+/+"},{"r":"C","t":61.7,"v":146.5,"s":"-/-"},
{"r":"D","t":29.1,"v":144.5,"s":"+/+"},{"r":"D","t":54.2,"v":144.5,"s":"-/-"}
]
},
"columns":3,
"align":"each",
"bounds":"flush",
"spacing":{"row":99,"column":83},
"resolve":{"scale":{"fill":"independent","stroke":"independent"},"legend":{"fill":"independent"}},
"concat":[
{"title":{"text":"A","anchor":"start","frame":"group","fontSize":14,"fontWeight":"bold","color":"#000","dx":-66,"offset":-4},
"width":221,"height":159,"layer":[
{"data":{"values":[{}]},"mark":{"type":"rule","strokeDash":[5,4],"strokeWidth":1.2,"color":"#000"},"encoding":{"y":{"datum":100,"type":"quantitative","scale":{"domain":[0,120],"nice":false}}}},
{"data":{"name":"tc"},"transform":[{"filter":"datum.r==='A'"}],"mark":{"type":"errorbar","color":"#555","thickness":1},"encoding":{"x":{"field":"t","type":"quantitative","title":"Time (min)","scale":{"domain":[-15,75],"nice":false},"axis":{"values":[-15,0,15,30,45,60,75],"tickCount":20,"titlePadding":14,"labelOverlap":false}},"y":{"field":"v","type":"quantitative","title":"fEPSP slope (%)","scale":{"domain":[0,120],"nice":false},"axis":{"values":[0,20,40,60,80,100,120],"tickCount":20,"titlePadding":8,"labelOverlap":false}},"yError":{"field":"e"}}},
{"data":{"name":"tc"},"transform":[{"filter":"datum.r==='A'"}],"mark":{"type":"circle","size":62,"stroke":"#1a1a1a","strokeWidth":0.8,"opacity":1},"encoding":{"x":{"field":"t","type":"quantitative","title":"Time (min)"},"y":{"field":"v","type":"quantitative","title":"fEPSP slope (%)"},"fill":{"field":"g","type":"nominal","scale":{"domain":["+/+","-/-"],"range":["#000000","#ff2a00"]},"legend":{"title":null,"orient":"none","legendX":192.7,"legendY":119.5,"symbolType":"circle","symbolSize":64,"symbolStrokeColor":"#1a1a1a","symbolStrokeWidth":0.8,"labelOffset":4,"rowPadding":-3}}}},
{"data":{"name":"tr"},"transform":[{"filter":"datum.r==='A'"}],"mark":{"type":"line","clip":false,"strokeWidth":1.3},"encoding":{"x":{"field":"t","type":"quantitative","title":"Time (min)"},"y":{"field":"v","type":"quantitative","title":"fEPSP slope (%)"},"detail":[{"field":"c"},{"field":"k"}],"order":{"field":"o"},"stroke":{"field":"k","type":"nominal","scale":{"domain":["pre","post","bar"],"range":["#000000","#9a9a9a","#444444"]},"legend":null}}},
{"data":{"name":"lbl"},"transform":[{"filter":"datum.r==='A'"}],"mark":{"type":"text","fontSize":11,"baseline":"middle","color":"#000","clip":false},"encoding":{"x":{"field":"t","type":"quantitative","title":"Time (min)"},"y":{"field":"v","type":"quantitative","title":"fEPSP slope (%)"},"text":{"field":"s"}}},
{"data":{"values":[{}]},"mark":{"type":"rule","strokeWidth":1.5,"color":"#000"},"encoding":{"x":{"datum":0,"type":"quantitative"},"x2":{"datum":15},"y":{"datum":4.2,"type":"quantitative"}}},
{"data":{"values":[{"s":"1 Hz LFS"}]},"mark":{"type":"text","fontSize":10.5,"baseline":"alphabetic","color":"#000"},"encoding":{"x":{"datum":7.5,"type":"quantitative"},"y":{"datum":6.5,"type":"quantitative"},"text":{"field":"s"}}}
]},
{"width":99,"height":159,"layer":[
{"data":{"values":[{}]},"mark":{"type":"rule","strokeDash":[5,4],"strokeWidth":1.2,"color":"#000"},"encoding":{"y":{"datum":100,"type":"quantitative","scale":{"domain":[0,150],"nice":false}}}},
{"data":{"name":"bars"},"transform":[{"filter":"datum.r==='A'"}],"mark":{"type":"errorbar","ticks":{"size":7,"thickness":1.5},"thickness":1.5,"color":"#000"},"encoding":{"x":{"field":"g","type":"nominal","title":null,"scale":{"domain":["+/+","-/-"],"paddingInner":0,"paddingOuter":1.475},"axis":{"labels":false,"ticks":false,"title":null}},"y":{"field":"m","type":"quantitative","title":"LTD level (%)","scale":{"domain":[0,150],"nice":false},"axis":{"values":[0,50,100,150],"tickCount":20,"titlePadding":9,"labelOverlap":false}},"yError":{"field":"e"}}},
{"data":{"name":"bars"},"transform":[{"filter":"datum.r==='A'"}],"mark":{"type":"bar","stroke":"#000","strokeWidth":1},"encoding":{"x":{"field":"g","type":"nominal","title":null},"y":{"field":"m","type":"quantitative","title":"LTD level (%)"},"fill":{"field":"g","type":"nominal","scale":{"domain":["+/+","-/-"],"range":["#000000","#ff2a00"]},"legend":{"title":null,"orient":"none","legendX":67.3,"legendY":-1.5,"symbolType":"M-2,-0.66H2V0.66H-2Z","symbolSize":83,"symbolStrokeColor":"#000","symbolStrokeWidth":1.2,"labelOffset":9.5,"rowPadding":-3}}}}
]},
{"width":219,"height":159,"layer":[
{"data":{"values":[{}]},"mark":{"type":"rule","strokeDash":[5,4],"strokeWidth":1.2,"color":"#000"},"encoding":{"x":{"datum":100,"type":"quantitative","scale":{"domain":[50,150],"nice":false,"zero":false}}}},
{"data":{"name":"cum"},"transform":[{"filter":"datum.r==='A'"}],"mark":{"type":"line","color":"#000","strokeWidth":1.5},"encoding":{"x":{"field":"x","type":"quantitative","title":"LTD level (%)","scale":{"domain":[50,150],"nice":false,"zero":false},"axis":{"values":[50,75,100,125,150],"tickCount":20,"titlePadding":14,"labelOverlap":false}},"y":{"field":"p","type":"quantitative","title":"Cumulative probability","scale":{"domain":[0,1],"nice":false},"axis":{"values":[0,0.2,0.4,0.6,0.8,1],"tickCount":20,"format":".1f","titlePadding":12,"labelOverlap":false}},"detail":{"field":"g"},"order":{"field":"p"}}},
{"data":{"name":"cum"},"transform":[{"filter":"datum.r==='A' && datum.g==='+/+'"}],"mark":{"type":"circle","size":30,"stroke":"#000","strokeWidth":0.8,"opacity":1},"encoding":{"x":{"field":"x","type":"quantitative","title":"LTD level (%)"},"y":{"field":"p","type":"quantitative","title":"Cumulative probability"},"fill":{"field":"g","type":"nominal","scale":{"domain":["+/+","-/-"],"range":["#000000","#ff2a00"]},"legend":{"title":null,"orient":"none","legendX":182.3,"legendY":120.7,"symbolType":"M-2,0H2M0.66,0A0.66,0.66,0,1,1,-0.66,0A0.66,0.66,0,1,1,0.66,0Z","symbolSize":121,"symbolStrokeColor":"#000","symbolStrokeWidth":1.3,"labelOffset":8,"rowPadding":-4}}}},
{"data":{"name":"cum"},"transform":[{"filter":"datum.r==='A' && datum.g==='-/-'"}],"mark":{"type":"circle","size":58,"stroke":"#000","strokeWidth":0.8,"opacity":1},"encoding":{"x":{"field":"x","type":"quantitative","title":"LTD level (%)"},"y":{"field":"p","type":"quantitative","title":"Cumulative probability"},"fill":{"field":"g","type":"nominal"}}}
]},
{"title":{"text":"B","anchor":"start","frame":"group","fontSize":14,"fontWeight":"bold","color":"#000","dx":-66,"offset":-4},
"width":221,"height":159,"layer":[
{"data":{"values":[{}]},"mark":{"type":"rule","strokeDash":[5,4],"strokeWidth":1.2,"color":"#000"},"encoding":{"y":{"datum":100,"type":"quantitative","scale":{"domain":[0,120],"nice":false}}}},
{"data":{"name":"tc"},"transform":[{"filter":"datum.r==='B'"}],"mark":{"type":"errorbar","color":"#555","thickness":1},"encoding":{"x":{"field":"t","type":"quantitative","title":"Time (min)","scale":{"domain":[-15,75],"nice":false},"axis":{"values":[-15,0,15,30,45,60,75],"tickCount":20,"titlePadding":14,"labelOverlap":false}},"y":{"field":"v","type":"quantitative","title":"fEPSP slope (%)","scale":{"domain":[0,120],"nice":false},"axis":{"values":[0,20,40,60,80,100,120],"tickCount":20,"titlePadding":8,"labelOverlap":false}},"yError":{"field":"e"}}},
{"data":{"name":"tc"},"transform":[{"filter":"datum.r==='B'"}],"mark":{"type":"circle","size":62,"stroke":"#1a1a1a","strokeWidth":0.8,"opacity":1},"encoding":{"x":{"field":"t","type":"quantitative","title":"Time (min)"},"y":{"field":"v","type":"quantitative","title":"fEPSP slope (%)"},"fill":{"field":"g","type":"nominal","scale":{"domain":["+/+","-/-"],"range":["#000000","#ff2a00"]},"legend":{"title":null,"orient":"none","legendX":192.7,"legendY":119.5,"symbolType":"circle","symbolSize":64,"symbolStrokeColor":"#1a1a1a","symbolStrokeWidth":0.8,"labelOffset":4,"rowPadding":-3}}}},
{"data":{"name":"tr"},"transform":[{"filter":"datum.r==='B'"}],"mark":{"type":"line","clip":false,"strokeWidth":1.3},"encoding":{"x":{"field":"t","type":"quantitative","title":"Time (min)"},"y":{"field":"v","type":"quantitative","title":"fEPSP slope (%)"},"detail":[{"field":"c"},{"field":"k"}],"order":{"field":"o"},"stroke":{"field":"k","type":"nominal","scale":{"domain":["pre","post","bar"],"range":["#000000","#9a9a9a","#444444"]},"legend":null}}},
{"data":{"name":"lbl"},"transform":[{"filter":"datum.r==='B'"}],"mark":{"type":"text","fontSize":11,"baseline":"middle","color":"#000","clip":false},"encoding":{"x":{"field":"t","type":"quantitative","title":"Time (min)"},"y":{"field":"v","type":"quantitative","title":"fEPSP slope (%)"},"text":{"field":"s"}}},
{"data":{"values":[{}]},"mark":{"type":"rule","strokeWidth":1.5,"color":"#000"},"encoding":{"x":{"datum":0,"type":"quantitative"},"x2":{"datum":15},"y":{"datum":4.2,"type":"quantitative"}}},
{"data":{"values":[{"s":"200 ms PPS"}]},"mark":{"type":"text","fontSize":10.5,"baseline":"alphabetic","color":"#000"},"encoding":{"x":{"datum":7.5,"type":"quantitative"},"y":{"datum":6.5,"type":"quantitative"},"text":{"field":"s"}}}
]},
{"width":99,"height":159,"layer":[
{"data":{"values":[{}]},"mark":{"type":"rule","strokeDash":[5,4],"strokeWidth":1.2,"color":"#000"},"encoding":{"y":{"datum":100,"type":"quantitative","scale":{"domain":[0,150],"nice":false}}}},
{"data":{"name":"bars"},"transform":[{"filter":"datum.r==='B'"}],"mark":{"type":"errorbar","ticks":{"size":7,"thickness":1.5},"thickness":1.5,"color":"#000"},"encoding":{"x":{"field":"g","type":"nominal","title":null,"scale":{"domain":["+/+","-/-"],"paddingInner":0,"paddingOuter":1.475},"axis":{"labels":false,"ticks":false,"title":null}},"y":{"field":"m","type":"quantitative","title":"LTD level (%)","scale":{"domain":[0,150],"nice":false},"axis":{"values":[0,50,100,150],"tickCount":20,"titlePadding":9,"labelOverlap":false}},"yError":{"field":"e"}}},
{"data":{"name":"bars"},"transform":[{"filter":"datum.r==='B'"}],"mark":{"type":"bar","stroke":"#000","strokeWidth":1},"encoding":{"x":{"field":"g","type":"nominal","title":null},"y":{"field":"m","type":"quantitative","title":"LTD level (%)"},"fill":{"field":"g","type":"nominal","scale":{"domain":["+/+","-/-"],"range":["#000000","#ff2a00"]},"legend":{"title":null,"orient":"none","legendX":67.3,"legendY":-1.5,"symbolType":"M-2,-0.66H2V0.66H-2Z","symbolSize":83,"symbolStrokeColor":"#000","symbolStrokeWidth":1.2,"labelOffset":9.5,"rowPadding":-3}}}},
{"data":{"name":"brk"},"transform":[{"filter":"datum.r==='B'"}],"mark":{"type":"line","color":"#000","strokeWidth":1.5},"encoding":{"x":{"field":"g","type":"nominal","title":null},"y":{"field":"y","type":"quantitative","title":"LTD level (%)"},"order":{"field":"o"}}},
{"data":{"name":"star"},"transform":[{"filter":"datum.r==='B'"}],"mark":{"type":"text","fontSize":18,"fontWeight":"bold","baseline":"alphabetic","color":"#000"},"encoding":{"x":{"field":"g","type":"nominal","title":null,"bandPosition":1},"y":{"field":"y","type":"quantitative","title":"LTD level (%)"},"text":{"field":"s"}}}
]},
{"width":219,"height":159,"layer":[
{"data":{"values":[{}]},"mark":{"type":"rule","strokeDash":[5,4],"strokeWidth":1.2,"color":"#000"},"encoding":{"x":{"datum":100,"type":"quantitative","scale":{"domain":[50,150],"nice":false,"zero":false}}}},
{"data":{"name":"cum"},"transform":[{"filter":"datum.r==='B'"}],"mark":{"type":"line","color":"#000","strokeWidth":1.5},"encoding":{"x":{"field":"x","type":"quantitative","title":"LTD level (%)","scale":{"domain":[50,150],"nice":false,"zero":false},"axis":{"values":[50,75,100,125,150],"tickCount":20,"titlePadding":14,"labelOverlap":false}},"y":{"field":"p","type":"quantitative","title":"Cumulative probability","scale":{"domain":[0,1],"nice":false},"axis":{"values":[0,0.2,0.4,0.6,0.8,1],"tickCount":20,"format":".1f","titlePadding":12,"labelOverlap":false}},"detail":{"field":"g"},"order":{"field":"p"}}},
{"data":{"name":"cum"},"transform":[{"filter":"datum.r==='B' && datum.g==='+/+'"}],"mark":{"type":"circle","size":30,"stroke":"#000","strokeWidth":0.8,"opacity":1},"encoding":{"x":{"field":"x","type":"quantitative","title":"LTD level (%)"},"y":{"field":"p","type":"quantitative","title":"Cumulative probability"},"fill":{"field":"g","type":"nominal","scale":{"domain":["+/+","-/-"],"range":["#000000","#ff2a00"]},"legend":{"title":null,"orient":"none","legendX":182.3,"legendY":120.7,"symbolType":"M-2,0H2M0.66,0A0.66,0.66,0,1,1,-0.66,0A0.66,0.66,0,1,1,0.66,0Z","symbolSize":121,"symbolStrokeColor":"#000","symbolStrokeWidth":1.3,"labelOffset":8,"rowPadding":-4}}}},
{"data":{"name":"cum"},"transform":[{"filter":"datum.r==='B' && datum.g==='-/-'"}],"mark":{"type":"circle","size":58,"stroke":"#000","strokeWidth":0.8,"opacity":1},"encoding":{"x":{"field":"x","type":"quantitative","title":"LTD level (%)"},"y":{"field":"p","type":"quantitative","title":"Cumulative probability"},"fill":{"field":"g","type":"nominal"}}}
]},
{"title":{"text":"C","anchor":"start","frame":"group","fontSize":14,"fontWeight":"bold","color":"#000","dx":-66,"offset":-4},
"width":221,"height":159,"layer":[
{"data":{"values":[{}]},"mark":{"type":"rule","strokeDash":[5,4],"strokeWidth":1.2,"color":"#000"},"encoding":{"y":{"datum":100,"type":"quantitative","scale":{"domain":[0,120],"nice":false}}}},
{"data":{"name":"tc"},"transform":[{"filter":"datum.r==='C'"}],"mark":{"type":"errorbar","color":"#555","thickness":1},"encoding":{"x":{"field":"t","type":"quantitative","title":"Time (min)","scale":{"domain":[-15,75],"nice":false},"axis":{"values":[-15,0,15,30,45,60,75],"tickCount":20,"titlePadding":14,"labelOverlap":false}},"y":{"field":"v","type":"quantitative","title":"fEPSP slope (%)","scale":{"domain":[0,120],"nice":false},"axis":{"values":[0,20,40,60,80,100,120],"tickCount":20,"titlePadding":8,"labelOverlap":false}},"yError":{"field":"e"}}},
{"data":{"name":"tc"},"transform":[{"filter":"datum.r==='C'"}],"mark":{"type":"circle","size":62,"stroke":"#1a1a1a","strokeWidth":0.8,"opacity":1},"encoding":{"x":{"field":"t","type":"quantitative","title":"Time (min)"},"y":{"field":"v","type":"quantitative","title":"fEPSP slope (%)"},"fill":{"field":"g","type":"nominal","scale":{"domain":["+/+","-/-"],"range":["#000000","#ff2a00"]},"legend":{"title":null,"orient":"none","legendX":192.7,"legendY":119.5,"symbolType":"circle","symbolSize":64,"symbolStrokeColor":"#1a1a1a","symbolStrokeWidth":0.8,"labelOffset":4,"rowPadding":-3}}}},
{"data":{"name":"tr"},"transform":[{"filter":"datum.r==='C'"}],"mark":{"type":"line","clip":false,"strokeWidth":1.3},"encoding":{"x":{"field":"t","type":"quantitative","title":"Time (min)"},"y":{"field":"v","type":"quantitative","title":"fEPSP slope (%)"},"detail":[{"field":"c"},{"field":"k"}],"order":{"field":"o"},"stroke":{"field":"k","type":"nominal","scale":{"domain":["pre","post","bar"],"range":["#000000","#9a9a9a","#444444"]},"legend":null}}},
{"data":{"name":"lbl"},"transform":[{"filter":"datum.r==='C'"}],"mark":{"type":"text","fontSize":11,"baseline":"middle","color":"#000","clip":false},"encoding":{"x":{"field":"t","type":"quantitative","title":"Time (min)"},"y":{"field":"v","type":"quantitative","title":"fEPSP slope (%)"},"text":{"field":"s"}}},
{"data":{"values":[{}]},"mark":{"type":"rule","strokeWidth":1.5,"color":"#000"},"encoding":{"x":{"datum":0,"type":"quantitative"},"x2":{"datum":15},"y":{"datum":4.2,"type":"quantitative"}}},
{"data":{"values":[{"s":"2 Hz LFS"}]},"mark":{"type":"text","fontSize":10.5,"baseline":"alphabetic","color":"#000"},"encoding":{"x":{"datum":7.5,"type":"quantitative"},"y":{"datum":6.5,"type":"quantitative"},"text":{"field":"s"}}}
]},
{"width":99,"height":159,"layer":[
{"data":{"values":[{}]},"mark":{"type":"rule","strokeDash":[5,4],"strokeWidth":1.2,"color":"#000"},"encoding":{"y":{"datum":100,"type":"quantitative","scale":{"domain":[0,150],"nice":false}}}},
{"data":{"name":"bars"},"transform":[{"filter":"datum.r==='C'"}],"mark":{"type":"errorbar","ticks":{"size":7,"thickness":1.5},"thickness":1.5,"color":"#000"},"encoding":{"x":{"field":"g","type":"nominal","title":null,"scale":{"domain":["+/+","-/-"],"paddingInner":0,"paddingOuter":1.475},"axis":{"labels":false,"ticks":false,"title":null}},"y":{"field":"m","type":"quantitative","title":"LTD level (%)","scale":{"domain":[0,150],"nice":false},"axis":{"values":[0,50,100,150],"tickCount":20,"titlePadding":9,"labelOverlap":false}},"yError":{"field":"e"}}},
{"data":{"name":"bars"},"transform":[{"filter":"datum.r==='C'"}],"mark":{"type":"bar","stroke":"#000","strokeWidth":1},"encoding":{"x":{"field":"g","type":"nominal","title":null},"y":{"field":"m","type":"quantitative","title":"LTD level (%)"},"fill":{"field":"g","type":"nominal","scale":{"domain":["+/+","-/-"],"range":["#000000","#ff2a00"]},"legend":{"title":null,"orient":"none","legendX":67.3,"legendY":-1.5,"symbolType":"M-2,-0.66H2V0.66H-2Z","symbolSize":83,"symbolStrokeColor":"#000","symbolStrokeWidth":1.2,"labelOffset":9.5,"rowPadding":-3}}}},
{"data":{"name":"brk"},"transform":[{"filter":"datum.r==='C'"}],"mark":{"type":"line","color":"#000","strokeWidth":1.5},"encoding":{"x":{"field":"g","type":"nominal","title":null},"y":{"field":"y","type":"quantitative","title":"LTD level (%)"},"order":{"field":"o"}}},
{"data":{"name":"star"},"transform":[{"filter":"datum.r==='C'"}],"mark":{"type":"text","fontSize":18,"fontWeight":"bold","baseline":"alphabetic","color":"#000"},"encoding":{"x":{"field":"g","type":"nominal","title":null,"bandPosition":1},"y":{"field":"y","type":"quantitative","title":"LTD level (%)"},"text":{"field":"s"}}}
]},
{"width":219,"height":159,"layer":[
{"data":{"values":[{}]},"mark":{"type":"rule","strokeDash":[5,4],"strokeWidth":1.2,"color":"#000"},"encoding":{"x":{"datum":100,"type":"quantitative","scale":{"domain":[50,150],"nice":false,"zero":false}}}},
{"data":{"name":"cum"},"transform":[{"filter":"datum.r==='C'"}],"mark":{"type":"line","color":"#000","strokeWidth":1.5},"encoding":{"x":{"field":"x","type":"quantitative","title":"LTD level (%)","scale":{"domain":[50,150],"nice":false,"zero":false},"axis":{"values":[50,75,100,125,150],"tickCount":20,"titlePadding":14,"labelOverlap":false}},"y":{"field":"p","type":"quantitative","title":"Cumulative probability","scale":{"domain":[0,1],"nice":false},"axis":{"values":[0,0.2,0.4,0.6,0.8,1],"tickCount":20,"format":".1f","titlePadding":12,"labelOverlap":false}},"detail":{"field":"g"},"order":{"field":"p"}}},
{"data":{"name":"cum"},"transform":[{"filter":"datum.r==='C' && datum.g==='+/+'"}],"mark":{"type":"circle","size":30,"stroke":"#000","strokeWidth":0.8,"opacity":1},"encoding":{"x":{"field":"x","type":"quantitative","title":"LTD level (%)"},"y":{"field":"p","type":"quantitative","title":"Cumulative probability"},"fill":{"field":"g","type":"nominal","scale":{"domain":["+/+","-/-"],"range":["#000000","#ff2a00"]},"legend":{"title":null,"orient":"none","legendX":182.3,"legendY":120.7,"symbolType":"M-2,0H2M0.66,0A0.66,0.66,0,1,1,-0.66,0A0.66,0.66,0,1,1,0.66,0Z","symbolSize":121,"symbolStrokeColor":"#000","symbolStrokeWidth":1.3,"labelOffset":8,"rowPadding":-4}}}},
{"data":{"name":"cum"},"transform":[{"filter":"datum.r==='C' && datum.g==='-/-'"}],"mark":{"type":"circle","size":58,"stroke":"#000","strokeWidth":0.8,"opacity":1},"encoding":{"x":{"field":"x","type":"quantitative","title":"LTD level (%)"},"y":{"field":"p","type":"quantitative","title":"Cumulative probability"},"fill":{"field":"g","type":"nominal"}}}
]},
{"title":{"text":"D","anchor":"start","frame":"group","fontSize":14,"fontWeight":"bold","color":"#000","dx":-66,"offset":-4},
"width":221,"height":159,"layer":[
{"data":{"values":[{}]},"mark":{"type":"rule","strokeDash":[5,4],"strokeWidth":1.2,"color":"#000"},"encoding":{"y":{"datum":100,"type":"quantitative","scale":{"domain":[0,120],"nice":false}}}},
{"data":{"name":"tc"},"transform":[{"filter":"datum.r==='D'"}],"mark":{"type":"errorbar","color":"#555","thickness":1},"encoding":{"x":{"field":"t","type":"quantitative","title":"Time (min)","scale":{"domain":[-15,75],"nice":false},"axis":{"values":[-15,0,15,30,45,60,75],"tickCount":20,"titlePadding":14,"labelOverlap":false}},"y":{"field":"v","type":"quantitative","title":"fEPSP slope (%)","scale":{"domain":[0,120],"nice":false},"axis":{"values":[0,20,40,60,80,100,120],"tickCount":20,"titlePadding":8,"labelOverlap":false}},"yError":{"field":"e"}}},
{"data":{"name":"tc"},"transform":[{"filter":"datum.r==='D'"}],"mark":{"type":"circle","size":62,"stroke":"#1a1a1a","strokeWidth":0.8,"opacity":1},"encoding":{"x":{"field":"t","type":"quantitative","title":"Time (min)"},"y":{"field":"v","type":"quantitative","title":"fEPSP slope (%)"},"fill":{"field":"g","type":"nominal","scale":{"domain":["+/+","-/-"],"range":["#000000","#ff2a00"]},"legend":{"title":null,"orient":"none","legendX":192.7,"legendY":119.5,"symbolType":"circle","symbolSize":64,"symbolStrokeColor":"#1a1a1a","symbolStrokeWidth":0.8,"labelOffset":4,"rowPadding":-3}}}},
{"data":{"name":"tr"},"transform":[{"filter":"datum.r==='D'"}],"mark":{"type":"line","clip":false,"strokeWidth":1.3},"encoding":{"x":{"field":"t","type":"quantitative","title":"Time (min)"},"y":{"field":"v","type":"quantitative","title":"fEPSP slope (%)"},"detail":[{"field":"c"},{"field":"k"}],"order":{"field":"o"},"stroke":{"field":"k","type":"nominal","scale":{"domain":["pre","post","bar"],"range":["#000000","#9a9a9a","#444444"]},"legend":null}}},
{"data":{"name":"lbl"},"transform":[{"filter":"datum.r==='D'"}],"mark":{"type":"text","fontSize":11,"baseline":"middle","color":"#000","clip":false},"encoding":{"x":{"field":"t","type":"quantitative","title":"Time (min)"},"y":{"field":"v","type":"quantitative","title":"fEPSP slope (%)"},"text":{"field":"s"}}},
{"data":{"values":[{}]},"mark":{"type":"rule","strokeWidth":1.5,"color":"#000"},"encoding":{"x":{"datum":0,"type":"quantitative"},"x2":{"datum":15},"y":{"datum":4.2,"type":"quantitative"}}},
{"data":{"values":[{"s":"50 ms PPS"}]},"mark":{"type":"text","fontSize":10.5,"baseline":"alphabetic","color":"#000"},"encoding":{"x":{"datum":7.5,"type":"quantitative"},"y":{"datum":6.5,"type":"quantitative"},"text":{"field":"s"}}}
]},
{"width":99,"height":159,"layer":[
{"data":{"values":[{}]},"mark":{"type":"rule","strokeDash":[5,4],"strokeWidth":1.2,"color":"#000"},"encoding":{"y":{"datum":100,"type":"quantitative","scale":{"domain":[0,150],"nice":false}}}},
{"data":{"name":"bars"},"transform":[{"filter":"datum.r==='D'"}],"mark":{"type":"errorbar","ticks":{"size":7,"thickness":1.5},"thickness":1.5,"color":"#000"},"encoding":{"x":{"field":"g","type":"nominal","title":null,"scale":{"domain":["+/+","-/-"],"paddingInner":0,"paddingOuter":1.475},"axis":{"labels":false,"ticks":false,"title":null}},"y":{"field":"m","type":"quantitative","title":"LTD level (%)","scale":{"domain":[0,150],"nice":false},"axis":{"values":[0,50,100,150],"tickCount":20,"titlePadding":9,"labelOverlap":false}},"yError":{"field":"e"}}},
{"data":{"name":"bars"},"transform":[{"filter":"datum.r==='D'"}],"mark":{"type":"bar","stroke":"#000","strokeWidth":1},"encoding":{"x":{"field":"g","type":"nominal","title":null},"y":{"field":"m","type":"quantitative","title":"LTD level (%)"},"fill":{"field":"g","type":"nominal","scale":{"domain":["+/+","-/-"],"range":["#000000","#ff2a00"]},"legend":{"title":null,"orient":"none","legendX":67.3,"legendY":-1.5,"symbolType":"M-2,-0.66H2V0.66H-2Z","symbolSize":83,"symbolStrokeColor":"#000","symbolStrokeWidth":1.2,"labelOffset":9.5,"rowPadding":-3}}}}
]},
{"width":219,"height":159,"layer":[
{"data":{"values":[{}]},"mark":{"type":"rule","strokeDash":[5,4],"strokeWidth":1.2,"color":"#000"},"encoding":{"x":{"datum":100,"type":"quantitative","scale":{"domain":[50,150],"nice":false,"zero":false}}}},
{"data":{"name":"cum"},"transform":[{"filter":"datum.r==='D'"}],"mark":{"type":"line","color":"#000","strokeWidth":1.5},"encoding":{"x":{"field":"x","type":"quantitative","title":"LTD level (%)","scale":{"domain":[50,150],"nice":false,"zero":false},"axis":{"values":[50,75,100,125,150],"tickCount":20,"titlePadding":14,"labelOverlap":false}},"y":{"field":"p","type":"quantitative","title":"Cumulative probability","scale":{"domain":[0,1],"nice":false},"axis":{"values":[0,0.2,0.4,0.6,0.8,1],"tickCount":20,"format":".1f","titlePadding":12,"labelOverlap":false}},"detail":{"field":"g"},"order":{"field":"p"}}},
{"data":{"name":"cum"},"transform":[{"filter":"datum.r==='D' && datum.g==='+/+'"}],"mark":{"type":"circle","size":30,"stroke":"#000","strokeWidth":0.8,"opacity":1},"encoding":{"x":{"field":"x","type":"quantitative","title":"LTD level (%)"},"y":{"field":"p","type":"quantitative","title":"Cumulative probability"},"fill":{"field":"g","type":"nominal","scale":{"domain":["+/+","-/-"],"range":["#000000","#ff2a00"]},"legend":{"title":null,"orient":"none","legendX":182.3,"legendY":120.7,"symbolType":"M-2,0H2M0.66,0A0.66,0.66,0,1,1,-0.66,0A0.66,0.66,0,1,1,0.66,0Z","symbolSize":121,"symbolStrokeColor":"#000","symbolStrokeWidth":1.3,"labelOffset":8,"rowPadding":-4}}}},
{"data":{"name":"cum"},"transform":[{"filter":"datum.r==='D' && datum.g==='-/-'"}],"mark":{"type":"circle","size":58,"stroke":"#000","strokeWidth":0.8,"opacity":1},"encoding":{"x":{"field":"x","type":"quantitative","title":"LTD level (%)"},"y":{"field":"p","type":"quantitative","title":"Cumulative probability"},"fill":{"field":"g","type":"nominal"}}}
]}
]
}
